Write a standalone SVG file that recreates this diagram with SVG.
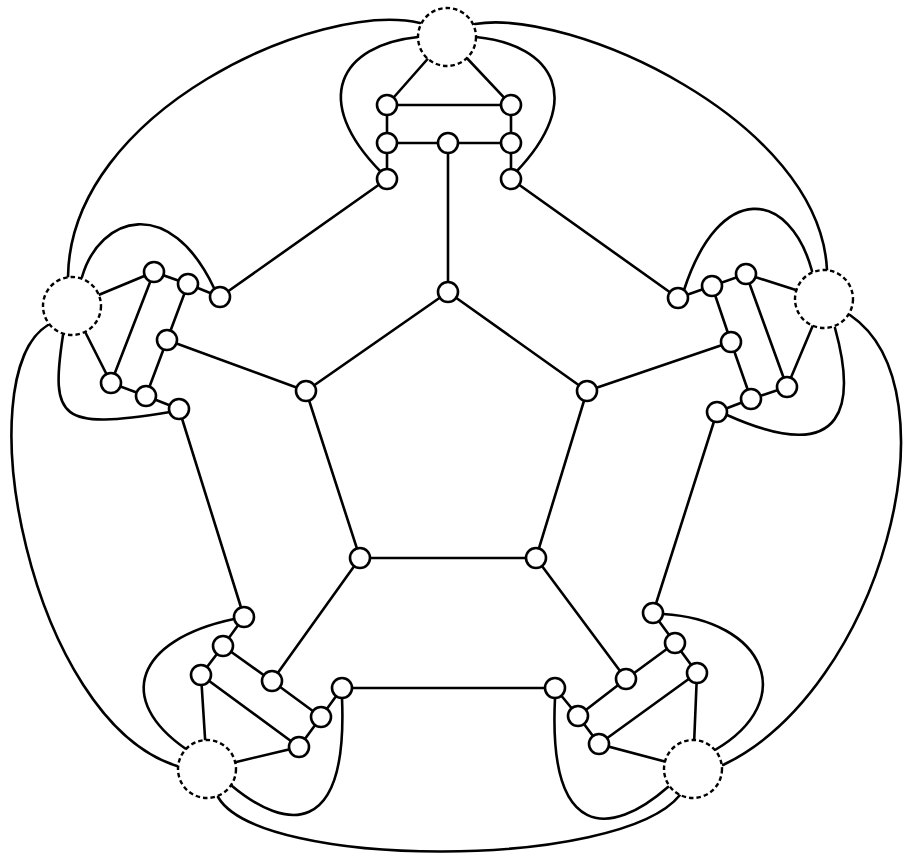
<svg xmlns="http://www.w3.org/2000/svg" width="903" height="855" viewBox="0 0 903 855">
<style>
.e{fill:none;stroke:#000;stroke-width:2.6;stroke-linecap:round}
.n{fill:#fff;stroke:#000;stroke-width:2.6}
.d{fill:#fff;stroke:#000;stroke-width:2.4;stroke-dasharray:4.5 3}
</style>
<rect width="903" height="855" fill="#fff"/>
<g id="connectors">
<!-- center pentagon -->
<path class="e" d="M448,292 L306,391 L360,558 L536,558 L587,391 Z"/>
<path class="e" d="M448,292 L448,143 M306,391 L167,340 M587,391 L731,342 M360,558 L272,681 M536,558 L626,679"/>
<!-- top gadget -->
<path class="e" d="M447,37 L387,105 M447,37 L511,105 M387,105 L511,105 M387,105 L387,143 L387,179 M511,105 L511,143 L511,179 M387,143 L511,143"/>
<path class="e" d="M387,179 L220,297 M511,179 L678,298"/>
<path class="e" d="M418,37 C340,45 310,100 381,172"/>
<path class="e" d="M476,37 C555,45 585,100 516,172"/>
<!-- left gadget -->
<path class="e" d="M72,306 L154,272 L188,284 L220,297 M154,272 L111,383 M72,306 L111,383 L146,396 L179,409 M188,284 L167,340 L146,396"/>
<path class="e" d="M179,409 L244,617"/>
<path class="e" d="M82,277 C100,215 170,195 214,288"/>
<path class="e" d="M63,335 C50,420 60,430 170,412"/>
<!-- right gadget -->
<path class="e" d="M824,299 L746,274 L712,286 L678,298 M746,274 L787,387 M824,299 L787,387 L751,399 L717,412 M712,286 L731,342 L751,399"/>
<path class="e" d="M717,412 L653,613"/>
<path class="e" d="M812,271 C790,190 720,180 684,290"/>
<path class="e" d="M835,328 C855,400 850,470 727,415"/>
<!-- bottom-left gadget -->
<path class="e" d="M207,769 L201,675 L223,646 L244,617 M201,675 L299,747 M207,769 L299,747 L321,717 L342,688 M223,646 L272,681 L321,717"/>
<path class="e" d="M342,688 L555,688"/>
<path class="e" d="M234,619 C135,640 115,700 186,749"/>
<path class="e" d="M232,786 C285,830 348,840 342,698"/>
<!-- bottom-right gadget -->
<path class="e" d="M693,769 L697,673 L675,643 L653,613 M697,673 L599,744 M693,769 L599,744 L578,716 L555,688 M675,643 L626,679 L578,716"/>
<path class="e" d="M663,614 C765,620 800,700 715,750"/>
<path class="e" d="M668,787 C610,838 548,840 555,698"/>
<!-- outer arcs -->
<path class="e" d="M420,23 C320,0 70,110 68,277"/>
<path class="e" d="M475,24 C570,8 820,120 827,270"/>
<path class="e" d="M850,315 C960,390 880,690 723,765"/>
<path class="e" d="M680,795 C620,870 260,870 218,797"/>
<path class="e" d="M177,766 C30,720 -35,375 48,325"/>
</g>
<g id="hub-top"><circle class="d" cx="447" cy="37" r="29"/></g>
<g id="hub-left"><circle class="d" cx="72" cy="306" r="29"/></g>
<g id="hub-right"><circle class="d" cx="824" cy="299" r="29"/></g>
<g id="hub-bottom-left"><circle class="d" cx="207" cy="769" r="29"/></g>
<g id="hub-bottom-right"><circle class="d" cx="693" cy="769" r="29"/></g>
<g id="center-nodes">
<g id="c1"><circle class="n" cx="448" cy="292" r="10"/></g>
<g id="c2"><circle class="n" cx="306" cy="391" r="10"/></g>
<g id="c3"><circle class="n" cx="587" cy="391" r="10"/></g>
<g id="c4"><circle class="n" cx="360" cy="558" r="10"/></g>
<g id="c5"><circle class="n" cx="536" cy="558" r="10"/></g>
</g>
<g id="top-nodes">
<g id="t1"><circle class="n" cx="387" cy="105" r="10"/></g>
<g id="t2"><circle class="n" cx="511" cy="105" r="10"/></g>
<g id="t3"><circle class="n" cx="387" cy="143" r="10"/></g>
<g id="t4"><circle class="n" cx="448" cy="143" r="10"/></g>
<g id="t5"><circle class="n" cx="511" cy="143" r="10"/></g>
<g id="t6"><circle class="n" cx="387" cy="179" r="10"/></g>
<g id="t7"><circle class="n" cx="511" cy="179" r="10"/></g>
</g>
<g id="left-nodes">
<g id="l1"><circle class="n" cx="154" cy="272" r="10"/></g>
<g id="l2"><circle class="n" cx="188" cy="284" r="10"/></g>
<g id="l3"><circle class="n" cx="220" cy="297" r="10"/></g>
<g id="l4"><circle class="n" cx="167" cy="340" r="10"/></g>
<g id="l5"><circle class="n" cx="111" cy="383" r="10"/></g>
<g id="l6"><circle class="n" cx="146" cy="396" r="10"/></g>
<g id="l7"><circle class="n" cx="179" cy="409" r="10"/></g>
</g>
<g id="right-nodes">
<g id="r1"><circle class="n" cx="746" cy="274" r="10"/></g>
<g id="r2"><circle class="n" cx="712" cy="286" r="10"/></g>
<g id="r3"><circle class="n" cx="678" cy="298" r="10"/></g>
<g id="r4"><circle class="n" cx="731" cy="342" r="10"/></g>
<g id="r5"><circle class="n" cx="787" cy="387" r="10"/></g>
<g id="r6"><circle class="n" cx="751" cy="399" r="10"/></g>
<g id="r7"><circle class="n" cx="717" cy="412" r="10"/></g>
</g>
<g id="bottom-left-nodes">
<g id="bl1"><circle class="n" cx="244" cy="617" r="10"/></g>
<g id="bl2"><circle class="n" cx="223" cy="646" r="10"/></g>
<g id="bl3"><circle class="n" cx="201" cy="675" r="10"/></g>
<g id="bl4"><circle class="n" cx="272" cy="681" r="10"/></g>
<g id="bl5"><circle class="n" cx="342" cy="688" r="10"/></g>
<g id="bl6"><circle class="n" cx="321" cy="717" r="10"/></g>
<g id="bl7"><circle class="n" cx="299" cy="747" r="10"/></g>
</g>
<g id="bottom-right-nodes">
<g id="br1"><circle class="n" cx="653" cy="613" r="10"/></g>
<g id="br2"><circle class="n" cx="675" cy="643" r="10"/></g>
<g id="br3"><circle class="n" cx="697" cy="673" r="10"/></g>
<g id="br4"><circle class="n" cx="626" cy="679" r="10"/></g>
<g id="br5"><circle class="n" cx="555" cy="688" r="10"/></g>
<g id="br6"><circle class="n" cx="578" cy="716" r="10"/></g>
<g id="br7"><circle class="n" cx="599" cy="744" r="10"/></g>
</g>
</svg>
